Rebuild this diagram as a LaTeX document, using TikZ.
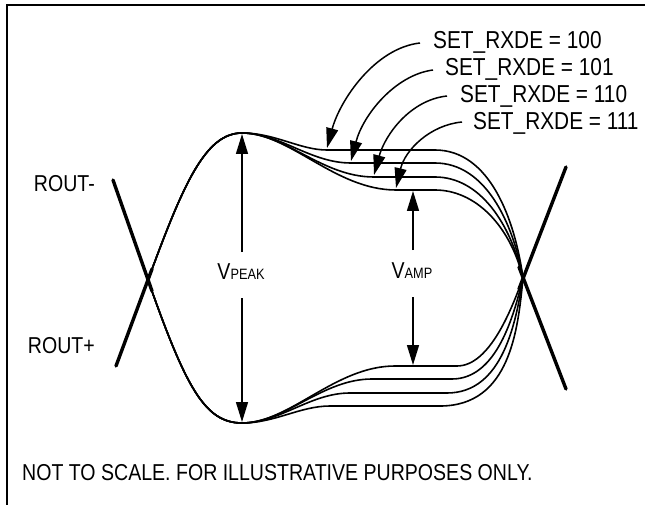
\documentclass[tikz,border=0pt]{standalone}
\usepackage{fontspec}
\setmainfont[FakeStretch=0.85]{Liberation Sans}
\usetikzlibrary{arrows.meta}
\begin{document}
\begin{tikzpicture}[x=1pt,y=-1pt,
  wave/.style={line width=1.6pt},
  xline/.style={line width=3.4pt, line cap=round},
  lead/.style={line width=1.5pt, -{Triangle[length=20pt,width=12pt]}},
  lbl/.style={font=\fontsize{23}{26}\selectfont, inner sep=0pt},
  setlbl/.style={font=\fontsize{24.5}{28}\selectfont, inner sep=0pt},
]
\useasboundingbox (0,0) rectangle (645,505);
% frame
\draw[line width=2.6pt] (7,505) -- (7,5) -- (645,5);

% labels
\node[lbl, anchor=base east] (rm) at (95,192) {ROUT-};
\node[lbl, anchor=base east] (rp) at (95,353) {ROUT+};
\node[setlbl, anchor=base west] (l100) at (433,49) {SET\_RXDE = 100};
\node[setlbl, anchor=base west] (l101) at (445,76) {SET\_RXDE = 101};
\node[setlbl, anchor=base west] (l110) at (460,103) {SET\_RXDE = 110};
\node[setlbl, anchor=base west] (l111) at (473,130) {SET\_RXDE = 111};
\node[lbl, anchor=base] (vpk) at (241,279) {V{\fontsize{15}{17}\selectfont PEAK}};
\node[lbl, anchor=base] (vam) at (412,278) {V{\fontsize{15}{17}\selectfont AMP}};
\node[lbl, anchor=base west] (note) at (22,480) {NOT TO SCALE. FOR ILLUSTRATIVE PURPOSES ONLY.};

% eye diagram X lines
\draw[xline] (113,180) -- (152,291);
\draw[xline] (116,366) -- (152,269);
\draw[xline] (566,167) -- (519,289);
\draw[xline] (566,389) -- (519,267);

% top waveforms
\draw[wave] (148,280) .. controls (183,185) and (205,133) .. (242,133)
  .. controls (275,133) and (300,150) .. (327,150) -- (435,150)
  .. controls (490,150) and (515,220) .. (523,278);
\draw[wave] (148,280) .. controls (183,185) and (205,133) .. (242,133)
  .. controls (280,133) and (310,163) .. (351,163) -- (435,163)
  .. controls (485,163) and (513,222) .. (523,278);
\draw[wave] (148,280) .. controls (183,185) and (205,133) .. (242,133)
  .. controls (285,133) and (322,177) .. (374,177) -- (435,177)
  .. controls (480,177) and (511,224) .. (523,278);
\draw[wave] (148,280) .. controls (183,185) and (205,133) .. (242,133)
  .. controls (290,133) and (335,190) .. (396,190) -- (435,190)
  .. controls (475,190) and (510,225) .. (523,278);

% bottom waveforms
\draw[wave] (148,280) .. controls (186,388) and (205,423) .. (242,423)
  .. controls (275,423) and (300,406) .. (330,406) -- (440,406)
  .. controls (510,406) and (518,330) .. (523,278);
\draw[wave] (148,280) .. controls (186,388) and (205,423) .. (242,423)
  .. controls (280,423) and (310,393) .. (350,393) -- (447,393)
  .. controls (503,393) and (516,322) .. (523,278);
\draw[wave] (148,280) .. controls (186,388) and (205,423) .. (242,423)
  .. controls (285,423) and (322,379) .. (372,379) -- (452,379)
  .. controls (497,379) and (514,315) .. (523,278);
\draw[wave] (148,280) .. controls (186,388) and (205,423) .. (242,423)
  .. controls (290,423) and (335,366) .. (395,366) -- (457,366)
  .. controls (490,366) and (512,308) .. (523,278);

% leader arrows
\coordinate (s100) at (420,43);
\coordinate (s101) at (433,70);
\coordinate (s110) at (447,96);
\coordinate (s111) at (462,122);
\coordinate (t100) at (327,148);
\coordinate (t101) at (351,161);
\coordinate (t110) at (374,175);
\coordinate (t111) at (396,188);
\draw[lead] (s100) .. controls (375,48) and (340,100) .. (t100);
\draw[lead] (s101) .. controls (395,75) and (363,115) .. (t101);
\draw[lead] (s110) .. controls (410,100) and (385,135) .. (t110);
\draw[lead] (s111) .. controls (430,125) and (405,150) .. (t111);

% V arrows
\coordinate (pk1) at (242,252);
\coordinate (pk2) at (242,298);
\coordinate (pkt) at (242,134);
\coordinate (pkb) at (242,422);
\coordinate (am1) at (413,250);
\coordinate (am2) at (413,297);
\coordinate (amt) at (413,191);
\coordinate (amb) at (413,365);
\draw[lead] (pk1) -- (pkt);
\draw[lead] (pk2) -- (pkb);
\draw[lead] (am1) -- (amt);
\draw[lead] (am2) -- (amb);
\end{tikzpicture}
\end{document}
